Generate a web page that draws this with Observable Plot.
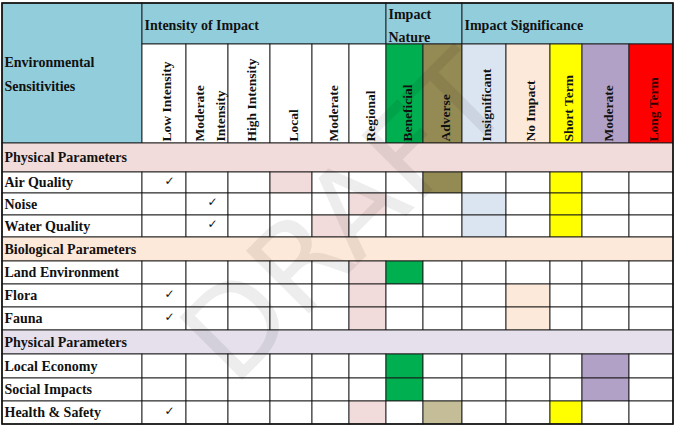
<!DOCTYPE html>
<html><head><meta charset="utf-8">
<script src="https://cdn.jsdelivr.net/npm/d3@7"></script>
<script src="https://cdn.jsdelivr.net/npm/@observablehq/plot@0.6"></script>
<style>body{margin:0;background:#fff}</style>
</head><body><div id="chart"></div>
<script>
// ---- data ----
const cornerLabel = "Environmental\nSensitivities";
const groupLabels = ["Intensity of Impact", "Impact\nNature", "Impact Significance"];
const groupSpans = [6, 2, 5];
const columnLabels = ["Low Intensity", "Moderate\nIntensity", "High Intensity", "Local", "Moderate", "Regional",
  "Beneficial", "Adverse", "Insignificant", "No Impact", "Short Term", "Moderate", "Long Term"];
const rowLabels = ["Physical Parameters", "Air Quality", "Noise", "Water Quality", "Biological Parameters",
  "Land Environment", "Flora", "Fauna", "Physical Parameters", "Local Economy", "Social Impacts", "Health & Safety"];
const sectionRows = ["Physical Parameters", "Biological Parameters"];
const checkCells = [["Air Quality", 0], ["Noise", 1], ["Water Quality", 1], ["Flora", 0], ["Fauna", 0], ["Health & Safety", 0]];
const shadedCells = [
  ["Air Quality", 3, "extent"], ["Air Quality", 7, "adverse"], ["Air Quality", 10, "short"],
  ["Noise", 5, "extent"], ["Noise", 8, "insig"], ["Noise", 10, "short"],
  ["Water Quality", 4, "extent"], ["Water Quality", 8, "insig"], ["Water Quality", 10, "short"],
  ["Land Environment", 5, "extent"], ["Land Environment", 6, "benef"],
  ["Flora", 5, "extent"], ["Flora", 9, "noimp"],
  ["Fauna", 5, "extent"], ["Fauna", 9, "noimp"],
  ["Local Economy", 6, "benef"], ["Local Economy", 11, "modsig"],
  ["Social Impacts", 6, "benef"], ["Social Impacts", 11, "modsig"],
  ["Health & Safety", 5, "extent"], ["Health & Safety", 7, "adverseLight"], ["Health & Safety", 10, "short"]
];
const watermark = "DRAFT";

// ---- layout & style ----
const colW = [140, 44, 42, 42, 42, 37, 37, 37, 39, 44, 44, 32, 47, 44];
const headH = [41, 99];
const bodyH = [29, 21, 22, 22, 24, 23, 23, 23, 24, 24, 23, 23];
const headerBlue = "#92cddc";
const colFill = ["#fff", "#fff", "#fff", "#fff", "#fff", "#fff", "#00b050", "#948a54", "#dbe5f1", "#fde9d9", "#ffff00", "#b2a1c7", "#ff0000"];
const sectionFill = ["#f2dcdb", "#fde9d9", "#e5e0ec"];
const shadeFill = {extent: "#f2dcdb", adverse: "#948a54", adverseLight: "#c4bd97", short: "#ffff00",
  insig: "#dbe5f1", benef: "#00b050", noimp: "#fde9d9", modsig: "#b2a1c7"};
const font = "Liberation Serif, Times New Roman, serif";

const xs = [0]; colW.forEach(w => xs.push(xs[xs.length - 1] + w));
const totalW = xs[xs.length - 1];
const hs = [...headH, ...bodyH];
const ys = [0]; hs.forEach(h => ys.push(ys[ys.length - 1] + h));
const totalH = ys[ys.length - 1];

const cells = [];
cells.push({x1: xs[0], x2: xs[1], y1: ys[0], y2: ys[2], fill: headerBlue});
let c = 1;
const groupText = [];
groupLabels.forEach((g, i) => {
  cells.push({x1: xs[c], x2: xs[c + groupSpans[i]], y1: ys[0], y2: ys[1], fill: headerBlue});
  groupText.push({x: xs[c] + 2, y: (ys[0] + ys[1]) / 2 - 1, text: g});
  c += groupSpans[i];
});
const colText = [];
columnLabels.forEach((l, j) => {
  cells.push({x1: xs[j + 1], x2: xs[j + 2], y1: ys[1], y2: ys[2], fill: colFill[j]});
  colText.push({x: (xs[j + 1] + xs[j + 2]) / 2, y: ys[2] - 2, text: l, j});
});
let sec = 0;
const rowText = [];
const rowIndex = {};
rowLabels.forEach((r, i) => {
  const y1 = ys[i + 2], y2 = ys[i + 3];
  const isSection = sectionRows.includes(r);
  rowText.push({x: 2, y: (y1 + y2) / 2, text: r});
  if (isSection) {
    cells.push({x1: xs[0], x2: totalW, y1, y2, fill: sectionFill[sec++]});
  } else {
    rowIndex[r] = i;
    for (let j = 0; j < xs.length - 1; j++) {
      const s = shadedCells.find(d => d[0] === r && d[1] + 1 === j);
      cells.push({x1: xs[j], x2: xs[j + 1], y1, y2, fill: s ? shadeFill[s[2]] : "#fff"});
    }
  }
});
const checks = checkCells.map(([r, j]) => {
  const i = rowIndex[r];
  return {x: (xs[j + 1] + xs[j + 2]) / 2 + 5, y: (ys[i + 2] + ys[i + 3]) / 2 - 2, text: "✓"};
});

const chart = Plot.plot({
  width: 680, height: 433,
  marginLeft: 2, marginRight: 7, marginTop: 3, marginBottom: 9,
  x: {domain: [0, totalW], axis: null},
  y: {domain: [0, totalH], reverse: true, axis: null},
  style: {background: "#fff"},
  marks: [
    Plot.rect(cells, {x1: "x1", x2: "x2", y1: "y1", y2: "y2", fill: d => d.fill, stroke: "#1a1a1a", strokeWidth: 0.9}),
    Plot.text([{x: 2, y: (ys[0] + ys[2]) / 2 - 2, text: cornerLabel}], {x: "x", y: "y", text: "text", textAnchor: "start",
      fontFamily: font, fontWeight: "bold", fontSize: 14, lineHeight: 1.7, fill: "#111"}),
    Plot.text(groupText, {x: "x", y: "y", text: "text", textAnchor: "start", fontFamily: font, fontWeight: "bold",
      fontSize: 14, lineHeight: 1.65, fill: "#111"}),
    Plot.text(colText, {x: "x", y: "y", text: "text", textAnchor: "start", rotate: -90, fontFamily: font,
      fontWeight: "bold", fontSize: 13.5, lineHeight: 1.6, fill: d => d.j === 12 ? "#300" : "#111"}),
    Plot.text(rowText, {x: "x", y: "y", text: "text", textAnchor: "start", fontFamily: font, fontWeight: "bold",
      fontSize: 14, fill: "#111"}),
    Plot.text(checks, {x: "x", y: "y", text: "text", fontFamily: "DejaVu Sans", fontSize: 12, fill: "#111"}),
    Plot.rect([{x1: 0, x2: totalW, y1: 0, y2: totalH}], {x1: "x1", x2: "x2", y1: "y1", y2: "y2", fill: "none", stroke: "#111", strokeWidth: 1.6}),
    Plot.text([{x: 345, y: 216, text: watermark}], {x: "x", y: "y", text: "text", rotate: -45, fontSize: 122,
      fontFamily: "DejaVu Sans", fill: "#000", fillOpacity: 0.07})
  ]
});
document.getElementById("chart").append(chart);
</script>
</body></html>
